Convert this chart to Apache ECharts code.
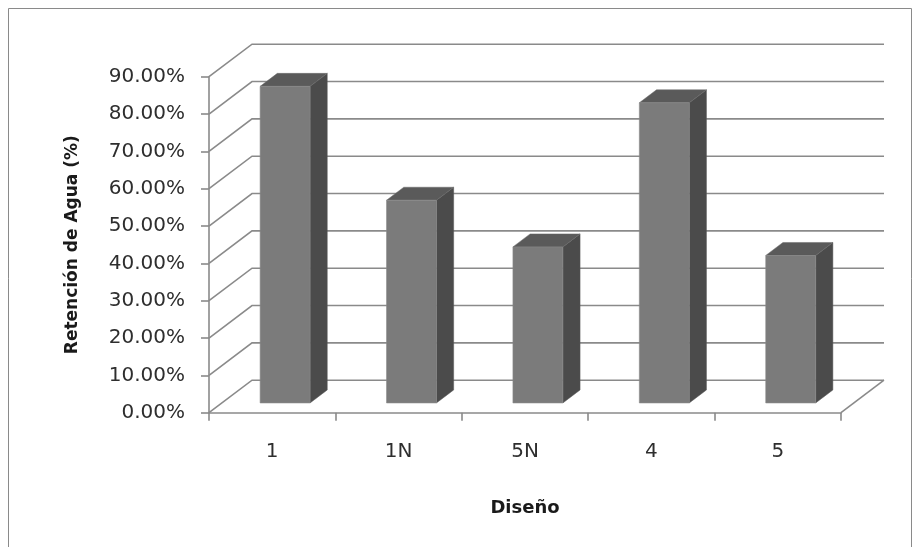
<!DOCTYPE html>
<html>
<head>
<meta charset="utf-8">
<script src="https://cdn.jsdelivr.net/npm/echarts@6/dist/echarts.min.js"></script>
<style>
  html, body { margin: 0; padding: 0; background: #fff; }
  #chart { width: 920px; height: 547px; }
</style>
</head>
<body>
<div id="chart"></div>
<script>
// Water retention per design
const categories = ['1', '1N', '5N', '4', '5'];
const retention = [84.8, 54.3, 41.8, 80.4, 39.5];
const yTicks = [0, 10, 20, 30, 40, 50, 60, 70, 80, 90];

// 3D look: offset of the back wall relative to the front plane (px)
const DEPTH_X = 43;
const DEPTH_Y = -32.5;
// bar sits between these fractions of the floor depth
const BAR_FRONT = 0.3;
const BAR_BACK = 0.7;
const BAR_WIDTH = 0.395; // fraction of the category band

const GRID_COLOR = '#8a8a8a';
const GRID_WIDTH = 1.6;
const FONT = '"DejaVu Sans", "Noto Sans", sans-serif';

const chart = echarts.init(document.getElementById('chart'));

function wallItem(params, api) {
  const v = api.value(1);
  const band = api.size([1, 0])[0];
  const first = api.coord([0, v]);
  const last = api.coord([categories.length - 1, v]);
  const left = first[0] - band / 2;
  const right = last[0] + band / 2;
  const y = first[1];
  const children = [{
    type: 'polyline',
    shape: { points: [[left, y], [left + DEPTH_X, y + DEPTH_Y], [right + DEPTH_X, y + DEPTH_Y]] },
    style: { stroke: GRID_COLOR, lineWidth: GRID_WIDTH, fill: null }
  }];
  if (params.dataIndex === 0) {
    // right edge of the floor
    children.push({
      type: 'line',
      shape: { x1: right, y1: y, x2: right + DEPTH_X, y2: y + DEPTH_Y },
      style: { stroke: GRID_COLOR, lineWidth: GRID_WIDTH }
    });
  }
  return { type: 'group', children };
}

function barItem(params, api) {
  const idx = api.value(0);
  const top = api.coord([idx, api.value(1)]);
  const base = api.coord([idx, 0]);
  const band = api.size([1, 0])[0];
  const w = band * BAR_WIDTH;
  const x0 = top[0] - w / 2, x1 = top[0] + w / 2;
  const fx = DEPTH_X * BAR_FRONT, fy = DEPTH_Y * BAR_FRONT;
  const bx = DEPTH_X * BAR_BACK, by = DEPTH_Y * BAR_BACK;
  const yt = top[1], yb = base[1];
  return {
    type: 'group',
    children: [
      {
        type: 'polygon',
        shape: { points: [[x1 + fx, yt + fy], [x1 + bx, yt + by], [x1 + bx, yb + by], [x1 + fx, yb + fy]] },
        style: { fill: '#4b4b4b', stroke: '#5a5a5a', lineWidth: 0.5 }
      },
      {
        type: 'polygon',
        shape: { points: [[x0 + fx, yt + fy], [x1 + fx, yt + fy], [x1 + bx, yt + by], [x0 + bx, yt + by]] },
        style: { fill: '#5a5a5a', stroke: '#6a6a6a', lineWidth: 0.5 }
      },
      {
        type: 'polygon',
        shape: { points: [[x0 + fx, yt + fy], [x1 + fx, yt + fy], [x1 + fx, yb + fy], [x0 + fx, yb + fy]] },
        style: { fill: '#7b7b7b', stroke: '#8a8a8a', lineWidth: 0.6 }
      }
    ]
  };
}

chart.setOption({
  animation: false,
  backgroundColor: '#ffffff',
  graphic: [{
    type: 'rect',
    shape: { x: 8.5, y: 8.5, width: 903, height: 560 },
    style: { fill: null, stroke: '#8a8a8a', lineWidth: 1 },
    silent: true,
    z: -10
  }],
  grid: { left: 209, right: 79, top: 76.7, bottom: 134.3, containLabel: false },
  xAxis: {
    type: 'category',
    data: categories,
    boundaryGap: true,
    name: 'Diseño',
    nameLocation: 'middle',
    nameGap: 87,
    nameTextStyle: { fontFamily: FONT, fontSize: 18, fontWeight: 'bold', color: '#1a1a1a' },
    axisLine: { show: true, lineStyle: { color: GRID_COLOR, width: GRID_WIDTH } },
    axisTick: { show: true, length: 8, lineStyle: { color: GRID_COLOR, width: GRID_WIDTH } },
    axisLabel: { margin: 29, fontFamily: FONT, fontSize: 20, color: '#2e2e2e' },
    splitLine: { show: false }
  },
  yAxis: {
    type: 'value',
    min: 0,
    max: 90,
    interval: 10,
    name: 'Retención de Agua (%)',
    nameLocation: 'middle',
    nameGap: 128,
    nameRotate: 90,
    nameTextStyle: { fontFamily: FONT, fontSize: 17, fontWeight: 'bold', color: '#1a1a1a' },
    axisLine: { show: true, lineStyle: { color: GRID_COLOR, width: GRID_WIDTH } },
    axisTick: { show: true, length: 8, lineStyle: { color: GRID_COLOR, width: GRID_WIDTH } },
    axisLabel: {
      margin: 24,
      fontFamily: FONT,
      fontSize: 20,
      color: '#2e2e2e',
      formatter: v => v.toFixed(2) + '%'
    },
    splitLine: { show: false }
  },
  series: [
    {
      type: 'custom',
      name: 'walls',
      clip: false,
      silent: true,
      z: 1,
      renderItem: wallItem,
      data: yTicks.map(t => [0, t])
    },
    {
      type: 'custom',
      name: 'Retención',
      clip: false,
      z: 3,
      renderItem: barItem,
      data: retention.map((v, i) => [i, v])
    }
  ]
});
</script>
</body>
</html>
